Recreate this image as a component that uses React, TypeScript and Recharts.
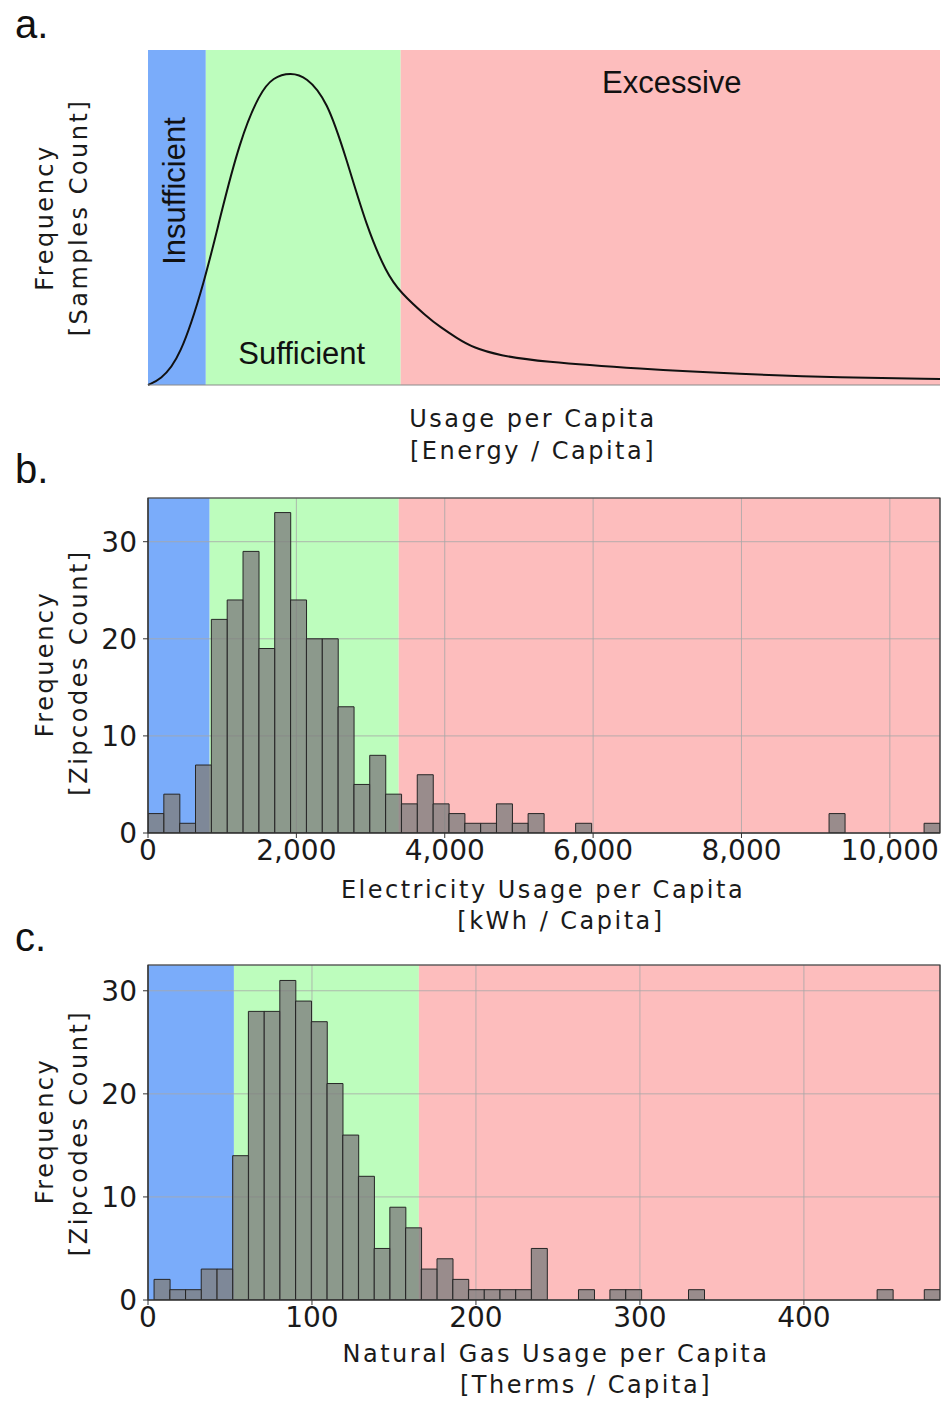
import { ComposedChart, Bar, Line, XAxis, YAxis, CartesianGrid, ReferenceArea } from "recharts";

// panel a: idealised usage curve on a 0-100 scale
const curveX = [0, 1.5, 4, 7.2, 9.1, 11.6, 14.1, 15.8, 18, 20, 22.6, 25.1, 27.6, 30.1, 31.9, 35.2, 36.9, 39, 41, 44.4, 49.5, 62.1, 74.7, 87.4, 100];
const curveY = [0, 1.5, 7.5, 31.3, 50.1, 73.1, 87.2, 91.9, 93.3, 92, 85.1, 67.2, 47.2, 33.4, 27.5, 20.4, 17.3, 14, 11.2, 8.8, 7.0, 4.8, 3.3, 2.2, 1.8];

// panel b: electricity histogram (50 bins)
const elecBinStart = 0;
const elecBinWidth = 213.5;
const elecCounts = [2, 4, 1, 7, 22, 24, 29, 19, 33, 24, 20, 20, 13, 5, 8, 4, 3, 6, 3, 2, 1, 1, 3, 1, 2, 0, 0, 1, 0, 0, 0, 0, 0, 0, 0, 0, 0, 0, 0, 0, 0, 0, 0, 2, 0, 0, 0, 0, 0, 1];
const elecTicks = [0, 2000, 4000, 6000, 8000, 10000];
const elecBands = [831, 3380]; // insufficient | sufficient | excessive

// panel c: natural gas histogram (50 bins)
const gasBinStart = 3.7;
const gasBinWidth = 9.586;
const gasCounts = [2, 1, 1, 3, 3, 14, 28, 28, 31, 29, 27, 21, 16, 12, 5, 9, 7, 3, 4, 2, 1, 1, 1, 1, 5, 0, 0, 1, 0, 1, 1, 0, 0, 0, 1, 0, 0, 0, 0, 0, 0, 0, 0, 0, 0, 0, 1, 0, 0, 1];
const gasTicks = [0, 100, 200, 300, 400];
const gasBands = [52.4, 165.2];

const countTicks = [0, 10, 20, 30];

const BLUE = "#7aacfa";
const GREEN = "#bdfdbd";
const RED = "#fdbdbd";
const FONT = "'DejaVu Sans', sans-serif";
const ARIAL = "'Liberation Sans', Arial, sans-serif";
const tickStyle = { fontSize: 28, fill: "#1a1a1a", fontFamily: FONT };
const titleStyle = { fontSize: 24, fill: "#1a1a1a", fontFamily: FONT, letterSpacing: 2.5 };

const curveData = curveX.map((x, i) => ({ x, y: curveY[i] }));
const toBins = (start: number, w: number, counts: number[]) =>
  counts.map((count, i) => ({ x: start + (i + 0.5) * w, count }));

function XTitle({ viewBox, lines }: any) {
  const { x, y } = viewBox;
  return (
    <g>
      {lines.map((l: any, i: number) => (
        <text key={i} x={x + l.dx} y={y + l.dy} textAnchor="middle" style={titleStyle}>
          {l.text}
        </text>
      ))}
    </g>
  );
}

function YTitle({ viewBox, lines }: any) {
  const cy = viewBox.y + viewBox.height / 2;
  return (
    <g>
      {lines.map((l: any, i: number) => (
        <text
          key={i}
          x={viewBox.x + l.bx}
          y={cy + l.dy}
          transform={`rotate(-90, ${viewBox.x + l.bx}, ${cy + l.dy})`}
          textAnchor="middle"
          style={titleStyle}
        >
          {l.text}
        </text>
      ))}
    </g>
  );
}

function RegionText({ viewBox, text, dx, dy, rotate }: any) {
  const cx = viewBox.x + viewBox.width / 2 + dx;
  const y = viewBox.y + dy;
  return (
    <text
      x={cx}
      y={y}
      textAnchor="middle"
      dominantBaseline={rotate ? "central" : "auto"}
      transform={rotate ? `rotate(-90, ${cx}, ${y})` : undefined}
      style={{ fontSize: 31, fill: "#111", fontFamily: ARIAL }}
    >
      {text}
    </text>
  );
}

function PanelA() {
  return (
    <ComposedChart width={949} height={470} data={curveData} margin={{ top: 50, right: 9, bottom: 0, left: 0 }}>
      <ReferenceArea x1={0} x2={7.3} y1={0} y2={100} fill={BLUE} fillOpacity={1} stroke="none" zIndex={-200}
        label={(p: any) => <RegionText viewBox={p.viewBox} text="Insufficient" dx={-2} dy={141} rotate />} />
      <ReferenceArea x1={7.3} x2={31.9} y1={0} y2={100} fill={GREEN} fillOpacity={1} stroke="none" zIndex={-200}
        label={(p: any) => <RegionText viewBox={p.viewBox} text="Sufficient" dx={-1.5} dy={314} />} />
      <ReferenceArea x1={31.9} x2={100} y1={0} y2={100} fill={RED} fillOpacity={1} stroke="none" zIndex={-200}
        label={(p: any) => <RegionText viewBox={p.viewBox} text="Excessive" dx={1.5} dy={43} />} />
      <XAxis type="number" dataKey="x" domain={[0, 100]} tick={false} tickLine={false} height={85}
        axisLine={{ stroke: "#8a8a8a" }}
        label={(p: any) => (
          <XTitle viewBox={p.viewBox} lines={[
            { text: "Usage per Capita", dx: 385, dy: 42 },
            { text: "[Energy / Capita]", dx: 385, dy: 74 },
          ]} />
        )} />
      <YAxis type="number" domain={[0, 100]} tick={false} tickLine={false} width={148}
        axisLine={false}
        label={(p: any) => (
          <YTitle viewBox={p.viewBox} lines={[
            { text: "Frequency", bx: 53, dy: 0 },
            { text: "[Samples Count]", bx: 87, dy: 0 },
          ]} />
        )} />
      <Line type="basis" dataKey="y" stroke="#111" strokeWidth={2} dot={false} isAnimationActive={false} />
    </ComposedChart>
  );
}

function Histogram({ height, top, data, xMax, yMax, xTicks, bands, xLines, yLines }: any) {
  return (
    <ComposedChart width={949} height={height} data={data} margin={{ top, right: 9, bottom: 0, left: 0 }}
      barCategoryGap={0} barGap={0}>
      <ReferenceArea x1={0} x2={bands[0]} y1={0} y2={yMax} fill={BLUE} fillOpacity={1} stroke="none" zIndex={-200} />
      <ReferenceArea x1={bands[0]} x2={bands[1]} y1={0} y2={yMax} fill={GREEN} fillOpacity={1} stroke="none" zIndex={-200} />
      <ReferenceArea x1={bands[1]} x2={xMax} y1={0} y2={yMax} fill={RED} fillOpacity={1} stroke="none" zIndex={-200} />
      <CartesianGrid stroke="#a8a8a8" strokeOpacity={0.8} />
      <XAxis type="number" dataKey="x" domain={[0, xMax]} ticks={xTicks} allowDataOverflow
        tickFormatter={(v: number) => v.toLocaleString("en-US")}
        tick={tickStyle} tickSize={5} tickMargin={2} tickLine={{ stroke: "#333" }} axisLine={{ stroke: "#333" }}
        height={height - top - 335}
        label={(p: any) => <XTitle viewBox={p.viewBox} lines={xLines} />} />
      <YAxis type="number" domain={[0, yMax]} ticks={countTicks} allowDataOverflow
        tick={tickStyle} tickSize={5} tickMargin={6} tickLine={{ stroke: "#333" }} axisLine={{ stroke: "#333" }}
        width={148}
        label={(p: any) => <YTitle viewBox={p.viewBox} lines={yLines} />} />
      <Bar dataKey="count" fill="#808080" fillOpacity={0.8} stroke="#262626" strokeWidth={1} isAnimationActive={false} />
      <ReferenceArea x1={0} x2={xMax} y1={0} y2={yMax} fill="none" stroke="#333" strokeWidth={1.2} zIndex={700} />
    </ComposedChart>
  );
}

const panelLetter = (text: string, top: number) => (
  <div style={{ position: "absolute", left: 15, top, fontFamily: ARIAL, fontSize: 40, lineHeight: "40px", color: "#111" }}>
    {text}
  </div>
);

export default function App() {
  return (
    <div style={{ position: "absolute", left: 0, top: 0, width: 949, height: 1411, background: "#fff" }}>
      <div style={{ position: "absolute", left: 0, top: 0 }}>
        <PanelA />
      </div>
      <div style={{ position: "absolute", left: 0, top: 470 }}>
        <Histogram
          height={470}
          top={28}
          data={toBins(elecBinStart, elecBinWidth, elecCounts)}
          xMax={10676}
          yMax={34.5}
          xTicks={elecTicks}
          bands={elecBands}
          xLines={[
            { text: "Electricity Usage per Capita", dx: 395, dy: 65 },
            { text: "[kWh / Capita]", dx: 413, dy: 96 },
          ]}
          yLines={[
            { text: "Frequency", bx: 53, dy: -1.5 },
            { text: "[Zipcodes Count]", bx: 87, dy: 7 },
          ]}
        />
      </div>
      <div style={{ position: "absolute", left: 0, top: 940 }}>
        <Histogram
          height={471}
          top={25}
          data={toBins(gasBinStart, gasBinWidth, gasCounts)}
          xMax={483}
          yMax={32.5}
          xTicks={gasTicks}
          bands={gasBands}
          xLines={[
            { text: "Natural Gas Usage per Capita", dx: 408, dy: 62 },
            { text: "[Therms / Capita]", dx: 438, dy: 93 },
          ]}
          yLines={[
            { text: "Frequency", bx: 53, dy: -1.5 },
            { text: "[Zipcodes Count]", bx: 87, dy: 0.5 },
          ]}
        />
      </div>
      {panelLetter("a.", 4)}
      {panelLetter("b.", 449)}
      {panelLetter("c.", 917)}
    </div>
  );
}
